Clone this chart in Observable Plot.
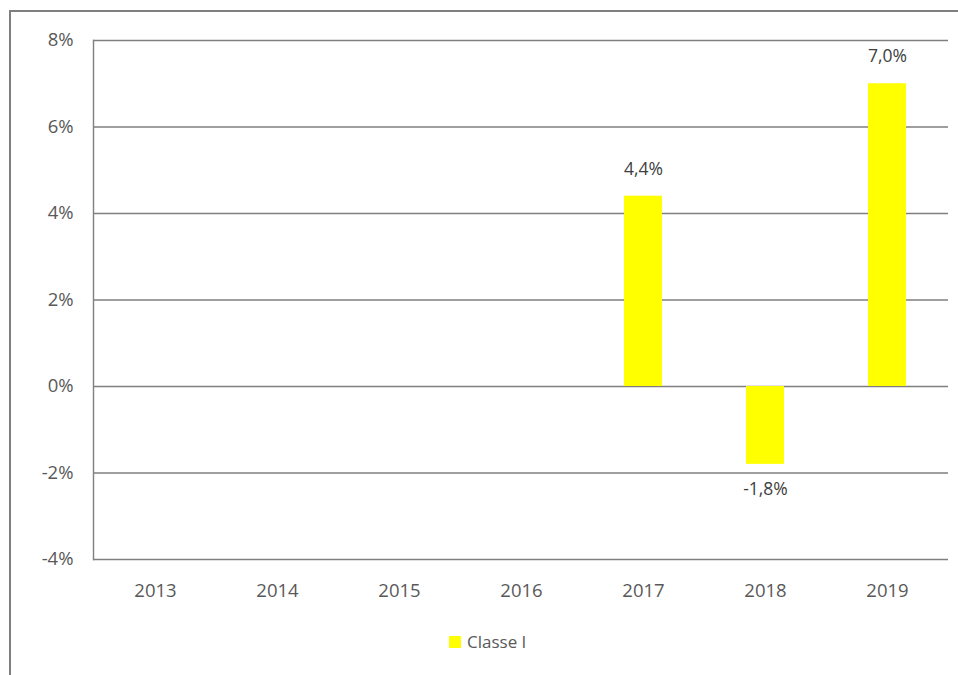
<!DOCTYPE html>
<html>
<head>
<meta charset="utf-8">
<script src="https://cdn.jsdelivr.net/npm/d3@7"></script>
<script src="https://cdn.jsdelivr.net/npm/@observablehq/plot@0.6"></script>
<style>
  html, body { margin: 0; padding: 0; background: #fff; }
  #wrap { position: relative; width: 958px; height: 675px; overflow: hidden; font-family: "Open Sans", sans-serif; }
  #frame { position: absolute; left: 9px; top: 10px; width: 1000px; height: 800px; border-left: 2px solid #7f7f7f; border-top: 2px solid #7f7f7f; }
  #chart { position: absolute; left: 0; top: 0; }
  #legend { position: absolute; left: 449px; top: 630px; display: flex; align-items: center; gap: 6px; font-size: 17px; color: #595959; }
  #legend .sw { width: 12px; height: 12px; background: #ffff00; }
</style>
</head>
<body>
<div id="wrap">
  <div id="frame"></div>
  <div id="chart"></div>
  <div id="legend"><span class="sw"></span><span>Classe I</span></div>
</div>
<script>
const years = ["2013", "2014", "2015", "2016", "2017", "2018", "2019"];
const classeI = [null, null, null, null, 0.044, -0.018, 0.070];
const yTicks = [-0.04, -0.02, 0, 0.02, 0.04, 0.06, 0.08];
const seriesName = "Classe I";

const data = years.map((y, i) => ({year: y, value: classeI[i]}));
const bars = data.filter(d => d.value != null);
const fmtPct = v => (v * 100).toFixed(1).replace(".", ",") + "%";

const chart = Plot.plot({
  width: 958,
  height: 620,
  marginTop: 40,
  marginBottom: 61,
  marginLeft: 93,
  marginRight: 10,
  style: { fontFamily: "Open Sans, sans-serif", fontSize: "18px", color: "#595959", background: "transparent" },
  x: { domain: years, paddingInner: 0.69, paddingOuter: 0.345, label: null },
  y: { domain: [-0.04, 0.08], label: null },
  marks: [
    Plot.gridY(yTicks, { stroke: "#7f7f7f", strokeOpacity: 1, strokeWidth: 1.4 }),
    Plot.barY(bars, { x: "year", y: "value", fill: "#ffff00" }),
    Plot.frame({ anchor: "left", stroke: "#7f7f7f", strokeWidth: 1.4 }),
    Plot.axisY({ ticks: yTicks, tickSize: 0, tickPadding: 20, tickFormat: d => Math.round(d * 100) + "%", fill: "#595959", fontSize: 18.5 }),
    Plot.axisX({ tickSize: 0, tickPadding: 24, fill: "#595959", fontSize: 18.5 }),
    Plot.text(bars.filter(d => d.value >= 0), { x: "year", y: "value", text: d => fmtPct(d.value), dy: -27, fill: "#404040", fontSize: 17.5 }),
    Plot.text(bars.filter(d => d.value < 0), { x: "year", y: "value", text: d => fmtPct(d.value), dy: 25, fill: "#404040", fontSize: 17.5 })
  ]
});
document.getElementById("chart").appendChild(chart);
</script>
</body>
</html>
